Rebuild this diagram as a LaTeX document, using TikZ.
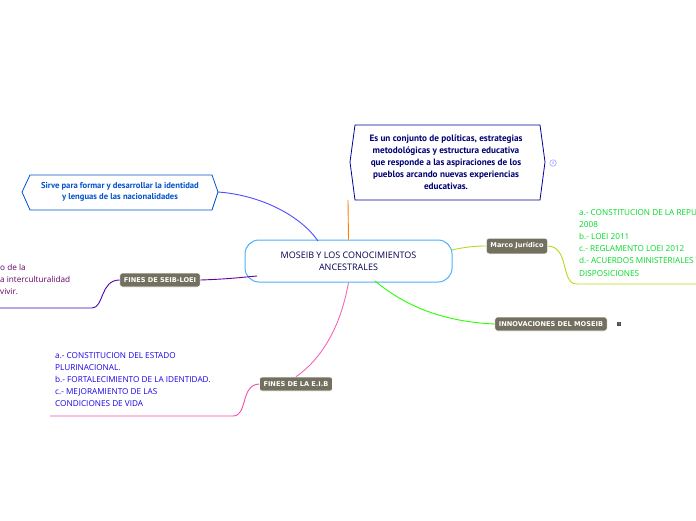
\documentclass[tikz,border=0pt]{standalone}
\usepackage{fontspec}
\setmainfont{Open Sans}
\newfontfamily\ptsans{PT Sans}
\newfontfamily\dvb{DejaVu Sans}
\begin{document}
\begin{tikzpicture}[x=1pt,y=-1pt,
  dark/.style={draw=white,fill=black!72!yellow!60!gray,rounded corners=2.5pt,text=white,font=\dvb\bfseries\fontsize{6.6}{7}\selectfont,inner xsep=4pt,inner ysep=4.5pt,line width=0.6pt},
  sub/.style={align=left,anchor=north west,font=\fontsize{8.2}{12.2}\selectfont,inner sep=0pt},
  conn/.style={line width=0.9pt}]
\useasboundingbox (0,0) rectangle (696,520);
\clip (0,0) rectangle (696,520);
% center
\node[draw=blue!45!cyan!70!white,line width=1pt,rounded corners=14pt,minimum width=207pt,minimum height=42pt,align=center,font=\fontsize{9}{12}\selectfont,text=blue!30!black] (c) at (348.5,261) {MOSEIB Y LOS CONOCIMIENTOS\\ANCESTRALES};
% top
\coordinate (tb) at (348,200);
\draw[draw=blue!60!black,line width=0.8pt] (355,125) -- (540,125) -- (545,162) -- (540,200) -- (355,200) -- (350,162) -- cycle;
\node[align=center,font=\ptsans\bfseries\fontsize{9.2}{12}\selectfont,text=blue!45!black] (top) at (446,162) {Es un conjunto de políticas, estrategias\\metodológicas y estructura educativa\\que responde a las aspiraciones de los\\pueblos arcando nuevas experiencias\\educativas.};
\node[circle,draw=blue!50,inner sep=1pt,font=\fontsize{4}{4}\selectfont,text=blue!50] (b4) at (553,163) {4};
\draw[conn,orange] (c.north) -- (tb);
% left hexagon
\draw[draw=blue!60!cyan!80!black,line width=0.8pt] (30,175) -- (212,175) -- (218,192) -- (212,210) -- (30,210) -- (22,192) -- cycle;
\node[align=center,font=\ptsans\bfseries\fontsize{8.6}{11.5}\selectfont,text=blue!60!cyan!80!black] (hex) at (120,192) {Sirve para formar y desarrollar la identidad\\y lenguas de las nacionalidades};
\coordinate (hr) at (218,192);
\draw[conn,blue!70!white] (hr) .. controls (260,195) and (300,215) .. (318,241);
% FINES SEIB
\node[dark] (seib) at (160,280) {FINES DE SEIB-LOEI};
\draw[conn,violet!80!blue] (seib.east) .. controls (230,279) and (245,277) .. (257,276);
\node[sub,text=violet!80!black] (t1) at (0,264) {o de la\\a interculturalidad\\ vivir.};
\coordinate (u1) at (92,308);
\draw[conn,violet!60!blue] (0,308) -- (u1) .. controls (104,308) and (100,280) .. (seib.west);
% Marco
\node[dark] (marco) at (517,246) {Marco Jurídico};
\draw[conn,yellow!70!green] (452,250) .. controls (465,247) and (475,246) .. (marco.west);
\node[sub,text=green!70!teal] (t2) at (579,209) {a.- CONSTITUCION DE LA REPUBLICA\\2008\\b.- LOEI 2011\\c.- REGLAMENTO LOEI 2012\\d.- ACUERDOS MINISTERIALES Y\\DISPOSICIONES};
\coordinate (u2) at (577,284);
\draw[conn,yellow!70!green] (marco.east) .. controls (570,247) and (560,284) .. (u2) -- (696,284);
% innovaciones
\node[dark] (inno) at (551,324) {INNOVACIONES DEL MOSEIB};
\node[fill=black!70,text=white,inner sep=1pt,font=\fontsize{3.5}{4}\selectfont] (b1) at (619,324) {1};
\draw[conn,green!80!lime] (375,281) .. controls (410,310) and (450,322) .. (inno.west);
% EIB
\node[dark] (eib) at (296,384) {FINES DE LA E.I.B};
\draw[conn,magenta!60] (c.south) .. controls (340,330) and (320,360) .. (eib.north);
\node[sub,text=blue!80!violet] (t3) at (55,352) {a.- CONSTITUCION DEL ESTADO\\PLURINACIONAL.\\b.- FORTALECIMIENTO DE LA IDENTIDAD.\\c.- MEJORAMIENTO DE LAS\\CONDICIONES DE VIDA};
\coordinate (u3) at (233,416);
\draw[conn,magenta!70] (50,416) -- (u3) .. controls (248,416) and (240,385) .. (eib.west);
\end{tikzpicture}
\end{document}
